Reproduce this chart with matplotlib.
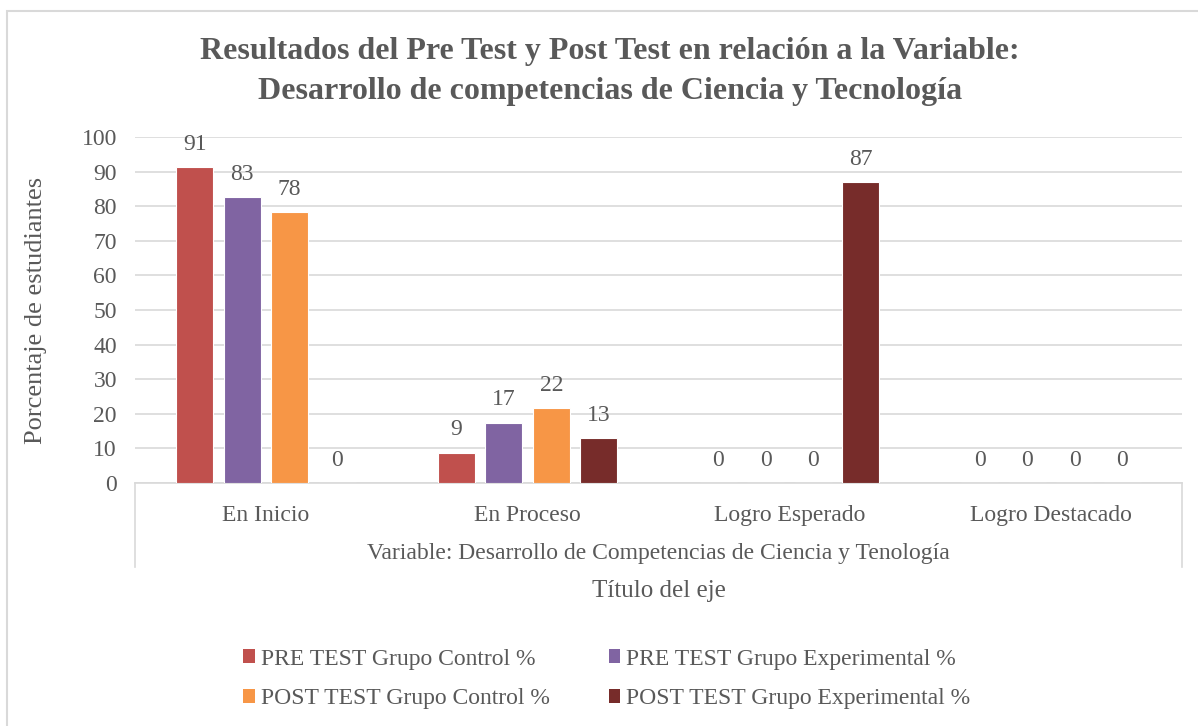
import matplotlib
matplotlib.use("Agg")
import matplotlib.pyplot as plt
from matplotlib.lines import Line2D
from matplotlib.patches import Rectangle, Patch
import numpy as np

categories = ["En Inicio", "En Proceso", "Logro Esperado", "Logro Destacado"]
series_names = ["PRE TEST Grupo Control %", "PRE TEST Grupo Experimental %",
                "POST TEST Grupo Control %", "POST TEST Grupo Experimental %"]
pre_control = [91.3, 8.7, 0, 0]
pre_experimental = [82.6, 17.4, 0, 0]
post_control = [78.3, 21.7, 0, 0]
post_experimental = [0, 13.0, 87.0, 0]
series_values = [pre_control, pre_experimental, post_control, post_experimental]
colors = ["#C0504D", "#8064A2", "#F79646", "#772C2A"]
y_ticks = list(range(0, 101, 10))

title = ("Resultados del Pre Test y Post Test en relación a la Variable:\n"
         "Desarrollo de competencias de Ciencia y Tecnología")
ylabel = "Porcentaje de estudiantes"
group_label = "Variable: Desarrollo de Competencias de Ciencia y Tenología"
xlabel = "Título del eje"

TXT = "#595959"
GRID = "#D9D9D9"
plt.rcParams['font.family'] = ['Liberation Serif', 'DejaVu Serif']

W, H = 1198, 726
fig = plt.figure(figsize=(W / 100, H / 100), dpi=100)

def fx(px):
    return px / W

def fy(py):
    return 1 - py / H

left_px, right_px, top_px, bot_px = 135, 1182, 137, 483
ax = fig.add_axes([fx(left_px), fy(bot_px), fx(right_px - left_px), (bot_px - top_px) / H])

n = len(series_values)
x = np.arange(len(categories))
step = 0.1815
width = 0.141
for i, (vals, col, name) in enumerate(zip(series_values, colors, series_names)):
    pos = x + (i - (n - 1) / 2) * step
    ax.bar(pos, vals, width=width, color=col, edgecolor="white", linewidth=0.8,
           label=name, zorder=3)
    for xp, v in zip(pos, vals):
        ax.annotate(f"{v:.0f}", (xp, v), xytext=(0, 16.5), textcoords="offset points",
                    ha="center", va="center", fontsize=17, color=TXT)

ax.set_xlim(-0.5, len(categories) - 0.5)
ax.set_ylim(0, 100)
ax.set_yticks(y_ticks)
ax.tick_params(axis="y", length=0, pad=13, labelsize=17, labelcolor=TXT)
ax.set_xticks(x)
ax.set_xticklabels(categories)
ax.tick_params(axis="x", length=0, pad=16, labelsize=17, labelcolor=TXT)
ax.grid(axis="y", color=GRID, linewidth=1.2, zorder=0)
for s in ["top", "right", "left"]:
    ax.spines[s].set_visible(False)
ax.spines["bottom"].set_color(GRID)
ax.spines["bottom"].set_linewidth(1.2)
ax.set_ylabel(ylabel, fontsize=19, color=TXT)
ax.yaxis.set_label_coords((47 - left_px) / (right_px - left_px), 0.5)

# multi-level axis separators
for px in (left_px, right_px):
    fig.add_artist(Line2D([fx(px), fx(px)], [fy(bot_px), fy(567)], color=GRID, linewidth=1.2))

fig.text(fx((left_px + right_px) / 2), fy(553), group_label, ha="center", va="center",
         fontsize=17, color=TXT)
fig.text(fx((left_px + right_px) / 2), fy(591), xlabel, ha="center", va="center",
         fontsize=18, color=TXT)

fig.text(fx(610), fy(72), title, ha="center", va="center", fontsize=23,
         fontweight="bold", color=TXT, linespacing=1.5)

# outer chart border
fig.add_artist(Rectangle((fx(7), -0.05), 1.2, fy(11) + 0.05, fill=False,
                         edgecolor=GRID, linewidth=1.5))

order = [0, 2, 1, 3]
handles = [Patch(facecolor=colors[k], edgecolor="none") for k in order]
labels = [series_names[k] for k in order]
leg = fig.legend(handles, labels, ncol=2, loc="center left",
                 bbox_to_anchor=(fx(243), fy(679)), frameon=False, fontsize=17,
                 handlelength=0.5, handleheight=0.5, handletextpad=0.25,
                 columnspacing=2.5, labelspacing=0.8, borderpad=0, borderaxespad=0)
for t in leg.get_texts():
    t.set_color(TXT)

fig.savefig("out.png", dpi=100)
